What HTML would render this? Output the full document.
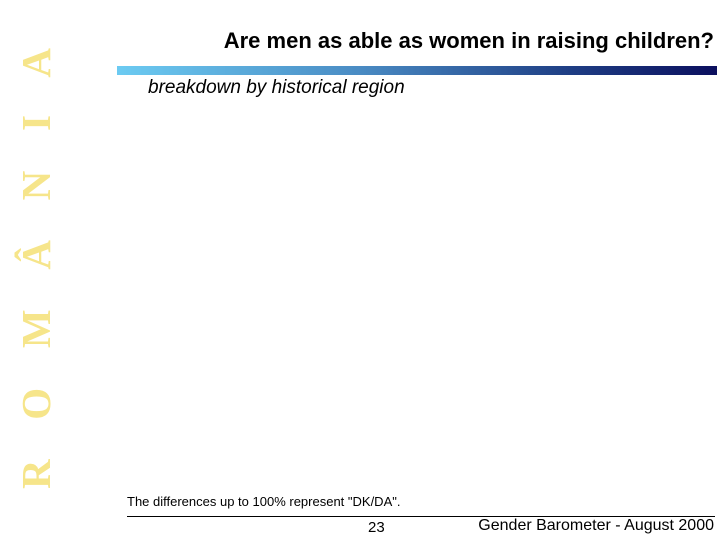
<!DOCTYPE html>
<html><head><meta charset="utf-8"><style>
html,body{margin:0;padding:0;background:#fff;}
#slide{position:relative;width:720px;height:540px;overflow:hidden;font-family:"Liberation Sans",sans-serif;}
.abs{position:absolute;white-space:nowrap;}
</style></head><body>
<div id="slide">
<svg class="abs" style="left:0;top:0" width="70" height="540">
<text transform="translate(50,489) rotate(-90)" textLength="441" lengthAdjust="spacing" font-family="Liberation Serif, serif" font-weight="bold" font-size="41" fill="#f6e58a">R O M Â N I A</text>
</svg>
<div class="abs" style="right:6px;top:28px;font-size:22px;font-weight:bold;color:#000;">Are men as able as women in raising children?</div>
<div class="abs" style="left:117px;top:66px;width:600px;height:9px;background:linear-gradient(to right,#6ccbf2,#4a8cc4 40%,#1f3f85 75%,#0b0f5e);"></div>
<div class="abs" style="left:148px;top:77px;font-size:19px;font-style:italic;color:#000;">breakdown by historical region</div>
<div class="abs" style="left:127px;top:494px;font-size:13px;color:#000;">The differences up to 100% represent "DK/DA".</div>
<div class="abs" style="left:127px;top:516px;width:588px;height:1px;background:#000;"></div>
<div class="abs" style="left:368px;top:519px;font-size:15px;color:#000;">23</div>
<div class="abs" style="right:6px;top:517px;font-size:16px;color:#000;">Gender Barometer - August 2000</div>
</div>
</body></html>
